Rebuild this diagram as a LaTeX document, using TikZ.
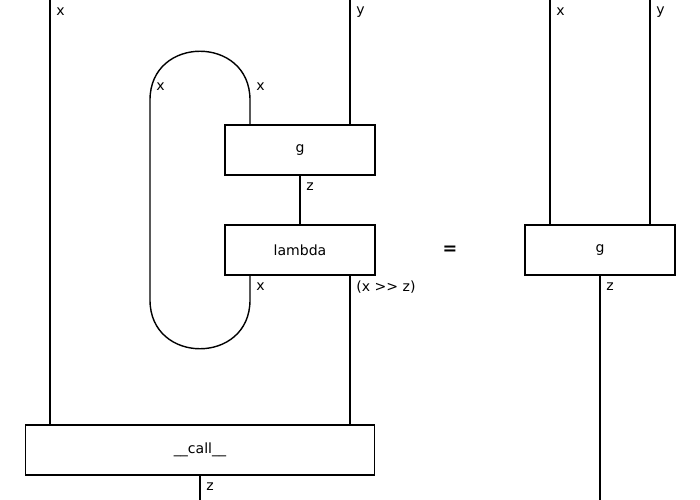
\documentclass[tikz,border=0pt]{standalone}
\usepackage{fontspec}
\setmainfont{DejaVu Sans}
\usetikzlibrary{positioning,calc}
\tikzset{
  % boxes of the string diagram
  sd box/.style={
    draw=black, line width=0.6pt, fill=white,
    minimum width=3cm, minimum height=1cm, inner sep=0pt,
    font=\fontsize{8}{9.6}\selectfont,
  },
  % the strings between boxes
  sd wire/.style={draw=black, line width=0.8pt},
  % wire types written beside the strings
  sd label/.style={anchor=west, inner sep=0pt, font=\fontsize{8}{9.6}\selectfont},
}

\begin{document}
\begin{tikzpicture}[x=0.02cm,y=-0.02cm]
  \useasboundingbox (0,0) rectangle (700,500);

  % ---- left-hand side --------------------------------------------------------
  \node[sd box] (g)    at (300,150) {g};
  \node[sd box] (lam)  at (300,250) {lambda};
  \node[sd box,minimum width=7cm] (call) at (200,450) {\_\_call\_\_};

  \coordinate (xin)   at (50,0);
  \coordinate (yin)   at (350,0);
  \coordinate (zout)  at (200,500);
  \coordinate (loopR) at (250,100);
  \coordinate (loopL) at (150,100);

  \draw[sd wire] (xin) -- (xin |- call.north);
  \draw[sd wire] (yin) -- (yin |- g.north);
  \draw[sd wire] (g.south) -- (lam.north);
  \draw[sd wire] (lam.south -| yin) -- (call.north -| yin);
  \draw[sd wire] (call.south) -- (zout);

  % the loop that feeds x back into g
  \draw[sd wire] (g.north -| loopR) -- (loopR)
    .. controls (250,35) and (150,35) .. (loopL)
    -- (150,300) .. controls (150,365) and (250,365) .. (250,300)
    -- (lam.south -| loopR);

  \node[sd label] (lx1) at (56,12)  {x};
  \node[sd label] (ly1) at (356,12) {y};
  \node[sd label] (lx2) at (156,87) {x};
  \node[sd label] (lx3) at (256,87) {x};
  \node[sd label] (lz1) at (306,187) {z};
  \node[sd label] (lx4) at (256,287) {x};
  \node[sd label] (lfn) at (356,287) {(x >\kern0pt> z)};
  \node[sd label] (lz2) at (206,487) {z};

  \node[font=\fontsize{10}{12}\selectfont\bfseries] (eq) at (450,250) {=};

  % ---- right-hand side -------------------------------------------------------
  \node[sd box] (g2) at (600,250) {g};
  \coordinate (xin2)  at (550,0);
  \coordinate (yin2)  at (650,0);
  \coordinate (zout2) at (600,500);

  \draw[sd wire] (xin2) -- (xin2 |- g2.north);
  \draw[sd wire] (yin2) -- (yin2 |- g2.north);
  \draw[sd wire] (g2.south) -- (zout2);

  \node[sd label] (lx5) at (556,12)  {x};
  \node[sd label] (ly2) at (656,12)  {y};
  \node[sd label] (lz3) at (606,287) {z};
\end{tikzpicture}
\end{document}
